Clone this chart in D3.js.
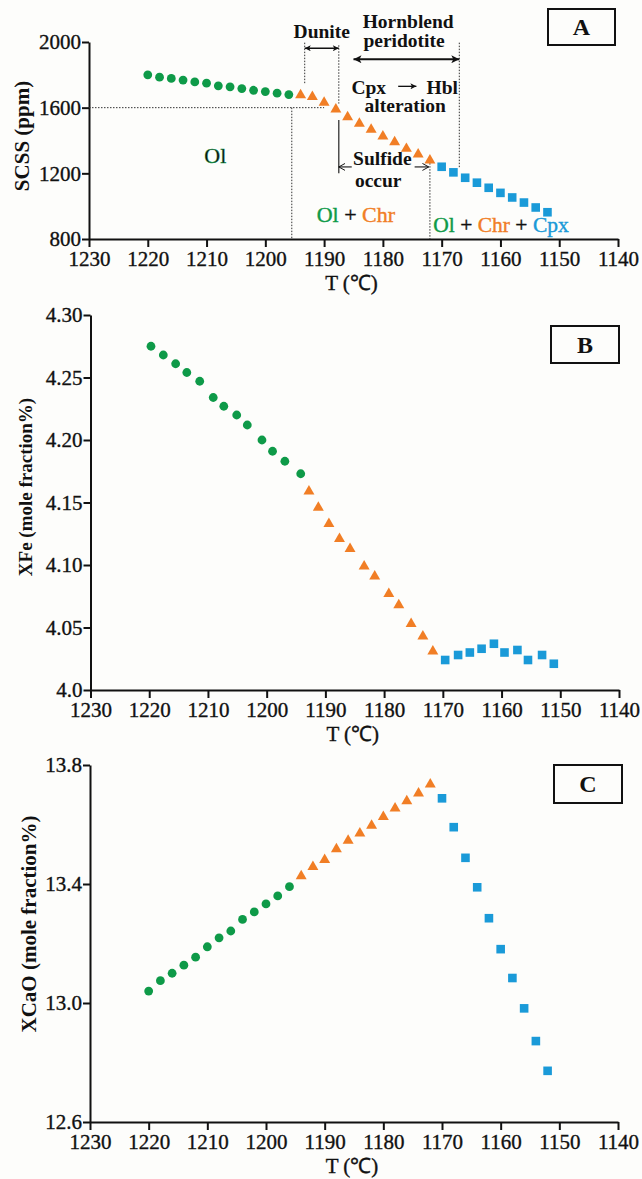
<!DOCTYPE html>
<html>
<head>
<meta charset="utf-8">
<script src="https://cdn.jsdelivr.net/npm/d3@7"></script>
<style>
  body { margin: 0; background: #fdfdfb; }
  svg { display: block; }
  text { font-family: "Liberation Serif", "Times New Roman", serif; fill: #111; }
</style>
</head>
<body>
<svg id="chart" width="642" height="1179"></svg>
<script>
// ---------- data ----------
const tempTicks = [1230, 1220, 1210, 1200, 1190, 1180, 1170, 1160, 1150, 1140];

// crystallisation temperatures (°C) for each assemblage, panels A and C
const tempOl  = [1220, 1218, 1216, 1214, 1212, 1210, 1208, 1206, 1204, 1202, 1200, 1198, 1196];
const tempChr = [1194, 1192, 1190, 1188, 1186, 1184, 1182, 1180, 1178, 1176, 1174, 1172];
const tempCpx = [1170, 1168, 1166, 1164, 1162, 1160, 1158, 1156, 1154, 1152];

// panel A: sulfur content at sulfide saturation (ppm)
const scssOl  = [1800, 1786, 1778, 1768, 1757, 1749, 1733, 1727, 1716, 1706, 1698, 1688, 1680];
const scssChr = [1676, 1666, 1631, 1590, 1543, 1503, 1466, 1425, 1391, 1350, 1316, 1279];
const scssCpx = [1240, 1206, 1173, 1143, 1112, 1081, 1053, 1022, 992, 963];
const scssTicks = [800, 1200, 1600, 2000];

// panel B temperatures
const tempOlB  = [1219.7, 1217.6, 1215.5, 1213.6, 1211.4, 1209.1, 1207.3, 1205.1, 1203.3, 1200.8, 1199.0, 1196.9, 1194.2];
const tempChrB = [1192.8, 1191.2, 1189.4, 1187.6, 1185.8, 1183.4, 1181.6, 1179.2, 1177.5, 1175.4, 1173.4, 1171.7];
const tempCpxB = [1169.6, 1167.4, 1165.4, 1163.4, 1161.3, 1159.5, 1157.3, 1155.5, 1153.1, 1151.1];

// panel B: XFe (mole fraction %)
const xfeOl  = [4.275, 4.268, 4.261, 4.254, 4.247, 4.234, 4.227, 4.220, 4.212, 4.200, 4.191, 4.183, 4.173];
const xfeChr = [4.159, 4.146, 4.133, 4.121, 4.113, 4.099, 4.091, 4.077, 4.068, 4.053, 4.043, 4.031];
const xfeCpx = [4.024, 4.028, 4.030, 4.033, 4.037, 4.030, 4.032, 4.024, 4.028, 4.021];
const xfeTicks = [4.0, 4.05, 4.10, 4.15, 4.20, 4.25, 4.30];
const xfeTickLabels = ["4.0", "4.05", "4.10", "4.15", "4.20", "4.25", "4.30"];

// panel C: XCaO (mole fraction %)
const xcaoOl  = [13.040, 13.075, 13.100, 13.127, 13.154, 13.189, 13.219, 13.242, 13.281, 13.306, 13.333, 13.360, 13.391];
const xcaoChr = [13.427, 13.458, 13.481, 13.517, 13.546, 13.570, 13.596, 13.626, 13.654, 13.679, 13.705, 13.735];
const xcaoCpx = [13.688, 13.591, 13.488, 13.389, 13.285, 13.181, 13.084, 12.982, 12.872, 12.772];
const xcaoTicks = [12.6, 13.0, 13.4, 13.8];
const xcaoTickLabels = ["12.6", "13.0", "13.4", "13.8"];

const GREEN = "#0e9a48", ORANGE = "#f17e25", BLUE = "#1a9ad8";

// ---------- drawing ----------
const svg = d3.select("#chart");

const defs = svg.append("defs");
defs.append("marker").attr("id", "headSmall")
  .attr("viewBox", "0 0 10 10").attr("refX", 10).attr("refY", 5)
  .attr("markerWidth", 7).attr("markerHeight", 6).attr("markerUnits", "userSpaceOnUse")
  .attr("orient", "auto-start-reverse")
  .append("path").attr("d", "M0,0L10,5L0,10L2.5,5Z").attr("fill", "#111");
defs.append("marker").attr("id", "headBig")
  .attr("viewBox", "0 0 10 10").attr("refX", 10).attr("refY", 5)
  .attr("markerWidth", 11).attr("markerHeight", 8).attr("markerUnits", "userSpaceOnUse")
  .attr("orient", "auto-start-reverse")
  .append("path").attr("d", "M0,0L10,5L0,10L2.5,5Z").attr("fill", "#111");
defs.append("marker").attr("id", "headOpen")
  .attr("viewBox", "0 0 10 10").attr("refX", 9).attr("refY", 5)
  .attr("markerWidth", 7).attr("markerHeight", 8).attr("markerUnits", "userSpaceOnUse")
  .attr("orient", "auto-start-reverse")
  .append("path").attr("d", "M0,0L9,5L0,10").attr("fill", "none").attr("stroke", "#111").attr("stroke-width", 1.4);

function drawPanel(cfg) {
  const x = d3.scaleLinear().domain([1230, 1140]).range(cfg.xRange);
  const y = d3.scaleLinear().domain(cfg.yDomain).range(cfg.yRange);
  const g = svg.append("g");

  const xAxis = d3.axisBottom(x).tickValues(tempTicks).tickFormat(d3.format("d"))
    .tickSize(8).tickPadding(4).tickSizeOuter(0);
  const yAxis = d3.axisLeft(y).tickValues(cfg.yTicks)
    .tickFormat((d, i) => cfg.yTickLabels ? cfg.yTickLabels[i] : d)
    .tickSize(7).tickPadding(1).tickSizeOuter(0);

  const gx = g.append("g").attr("transform", `translate(0,${cfg.yRange[0]})`).call(xAxis);
  const gy = g.append("g").attr("transform", `translate(${cfg.xRange[0]},0)`).call(yAxis);
  [gx, gy].forEach(a => {
    a.select(".domain").attr("stroke", "#111").attr("stroke-width", 2);
    a.selectAll(".tick line").attr("stroke", "#111").attr("stroke-width", 2);
    a.selectAll(".tick text").attr("font-size", 21).attr("fill", "#111")
      .style("font-family", '"Liberation Serif", serif')
      .attr("stroke", "#111").attr("stroke-width", 0.35);
  });

  // axis titles
  g.append("text").attr("x", (cfg.xRange[0] + cfg.xRange[1]) / 2 - 2).attr("y", cfg.yRange[0] + 51)
    .attr("text-anchor", "middle").attr("font-size", 21)
    .attr("stroke", "#111").attr("stroke-width", 0.35).text("T (℃)");
  g.append("text").attr("transform", `translate(${cfg.yTitle[0]},${cfg.yTitle[1]}) rotate(-90)`)
    .attr("text-anchor", "middle").attr("dominant-baseline", "central")
    .attr("font-size", cfg.yTitle[2]).attr("font-weight", "bold").text(cfg.yTitleText);

  // panel letter box
  const b = cfg.box;
  g.append("rect").attr("x", b[0]).attr("y", b[1]).attr("width", b[2]).attr("height", b[3])
    .attr("fill", "none").attr("stroke", "#111").attr("stroke-width", 2);
  g.append("text").attr("x", b[0] + b[2] / 2).attr("y", b[1] + b[3] / 2 + 8)
    .attr("text-anchor", "middle").attr("font-size", 24).attr("font-weight", "bold").text(cfg.letter);

  if (cfg.annotate) cfg.annotate(g, x, y);

  // markers
  const [tO, tC, tX] = cfg.temps;
  const [vO, vC, vX] = cfg.values;
  g.append("g").selectAll("circle").data(d3.zip(tO, vO)).join("circle")
    .attr("cx", d => x(d[0])).attr("cy", d => y(d[1])).attr("r", 4.4).attr("fill", GREEN);
  g.append("g").selectAll("path").data(d3.zip(tC, vC)).join("path")
    .attr("d", d3.symbol(d3.symbolTriangle, 52))
    .attr("transform", d => `translate(${x(d[0])},${y(d[1])})`).attr("fill", ORANGE);
  g.append("g").selectAll("path").data(d3.zip(tX, vX)).join("path")
    .attr("d", d3.symbol(d3.symbolSquare, 74))
    .attr("transform", d => `translate(${x(d[0])},${y(d[1])})`).attr("fill", BLUE);
}

function annotateA(g, x, y) {
  const dotted = (t1, v1, t2, v2) => g.append("line")
    .attr("x1", x(t1)).attr("y1", y(v1)).attr("x2", x(t2)).attr("y2", y(v2))
    .attr("stroke", "#333").attr("stroke-width", 1).attr("stroke-dasharray", "1.5,1.5");
  const solid = (t1, v1, t2, v2) => g.append("line")
    .attr("x1", x(t1)).attr("y1", y(v1)).attr("x2", x(t2)).attr("y2", y(v2))
    .attr("stroke", "#222").attr("stroke-width", 1.2);
  const arrow = (t1, t2, v, marker, w, start, end) => g.append("line")
    .attr("x1", x(t1)).attr("y1", y(v)).attr("x2", x(t2)).attr("y2", y(v))
    .attr("stroke", "#111").attr("stroke-width", w)
    .attr("marker-start", start ? `url(#${marker})` : null)
    .attr("marker-end", end ? `url(#${marker})` : null);

  // phase boundaries
  dotted(1230, 1600, 1190, 1600);
  dotted(1195.5, 1600, 1195.5, 800);
  dotted(1193.3, 1996, 1193.3, 1740);
  dotted(1187.5, 1980, 1187.5, 1625);
  solid(1187.5, 1525, 1187.5, 1200);
  dotted(1172, 1262, 1172, 800);
  dotted(1167, 1996, 1167, 1235);

  // range arrows
  arrow(1193.3, 1187.5, 1962, "headSmall", 1.6, true, true);
  arrow(1185, 1167, 1895, "headBig", 2, true, true);
  arrow(1187.5, 1185.3, 1239, "headOpen", 1.1, true, false);
  arrow(1174.6, 1172.2, 1239, "headOpen", 1.1, false, true);
  arrow(1177.4, 1174.3, 1730, "headSmall", 1.3, false, true);

  const label = (tx, v, txt) => g.append("text")
    .attr("x", x(tx)).attr("y", y(v)).attr("text-anchor", "middle")
    .attr("font-size", 19.5).attr("font-weight", "bold").text(txt);
  label(1190.4, 2027, "Dunite");
  label(1175.7, 2085, "Hornblend");
  label(1176.4, 1968, "peridotite");
  label(1182.4, 1683, "Cpx");
  label(1169.9, 1683, "Hbl");
  label(1176.2, 1571, "alteration");
  label(1180.1, 1253, "Sulfide");
  label(1180.8, 1117, "occur");

  // mineral assemblages
  g.append("text").attr("x", x(1208.5)).attr("y", y(1260)).attr("text-anchor", "middle")
    .attr("font-size", 22).attr("fill", GREEN).attr("stroke", GREEN).attr("stroke-width", 0.4).text("Ol");
  const t1 = g.append("text").attr("x", x(1184.6)).attr("y", y(906)).attr("text-anchor", "middle")
    .attr("font-size", 22).attr("stroke-width", 0.4);
  t1.append("tspan").attr("fill", GREEN).attr("stroke", GREEN).text("Ol");
  t1.append("tspan").attr("fill", "#111").attr("stroke", "#111").text(" + ");
  t1.append("tspan").attr("fill", ORANGE).attr("stroke", ORANGE).text("Chr");
  const t2 = g.append("text").attr("x", x(1159.9)).attr("y", y(845)).attr("text-anchor", "middle")
    .attr("font-size", 21.5).attr("stroke-width", 0.4);
  t2.append("tspan").attr("fill", GREEN).attr("stroke", GREEN).text("Ol");
  t2.append("tspan").attr("fill", "#111").attr("stroke", "#111").text(" + ");
  t2.append("tspan").attr("fill", ORANGE).attr("stroke", ORANGE).text("Chr");
  t2.append("tspan").attr("fill", "#111").attr("stroke", "#111").text(" + ");
  t2.append("tspan").attr("fill", BLUE).attr("stroke", BLUE).text("Cpx");
}

drawPanel({
  xRange: [89, 618], yRange: [239, 42], yDomain: [800, 2000], yTicks: scssTicks,
  yTitle: [22, 136, 21], yTitleText: "SCSS (ppm)",
  box: [548, 9, 67, 36], letter: "A",
  temps: [tempOl, tempChr, tempCpx], values: [scssOl, scssChr, scssCpx],
  annotate: annotateA
});

drawPanel({
  xRange: [90.5, 619], yRange: [690, 315], yDomain: [4.0, 4.30], yTicks: xfeTicks,
  yTickLabels: xfeTickLabels,
  yTitle: [25, 487, 19], yTitleText: "XFe (mole fraction%)",
  box: [551, 326, 68, 37], letter: "B",
  temps: [tempOlB, tempChrB, tempCpxB], values: [xfeOl, xfeChr, xfeCpx]
});

drawPanel({
  xRange: [90, 618], yRange: [1122, 765], yDomain: [12.6, 13.8], yTicks: xcaoTicks,
  yTickLabels: xcaoTickLabels,
  yTitle: [29, 924, 21], yTitleText: "XCaO  (mole fraction%)",
  box: [554, 765, 68, 38], letter: "C",
  temps: [tempOl, tempChr, tempCpx], values: [xcaoOl, xcaoChr, xcaoCpx]
});
</script>
</body>
</html>
